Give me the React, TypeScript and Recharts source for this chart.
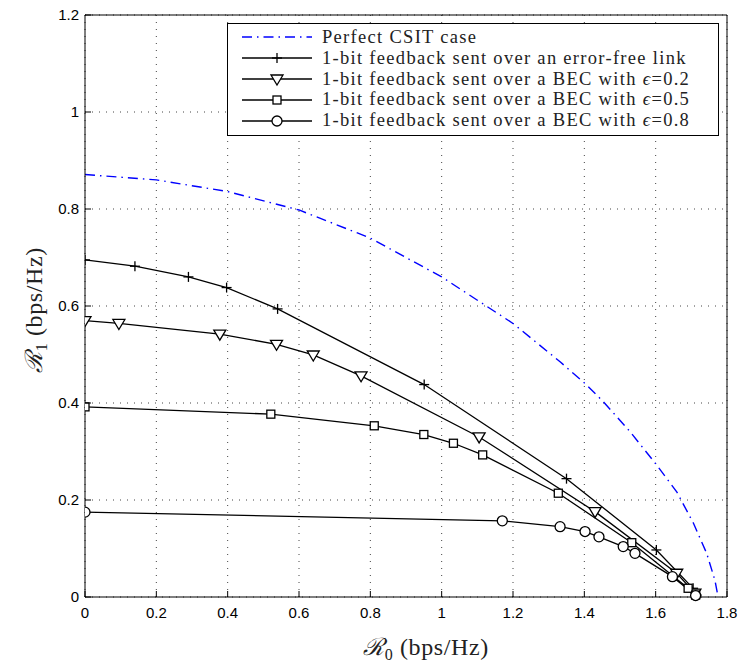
import React from 'react';
import { LineChart, Line, XAxis, YAxis, CartesianGrid } from 'recharts';

const xTicks = [0, 0.2, 0.4, 0.6, 0.8, 1, 1.2, 1.4, 1.6, 1.8];
const yTicks = [0, 0.2, 0.4, 0.6, 0.8, 1, 1.2];

const perfectCsit = [
    { x: 0, y: 0.871 }, { x: 0.2, y: 0.86 }, { x: 0.4, y: 0.836 }, { x: 0.6, y: 0.798 },
    { x: 0.8, y: 0.74 }, { x: 1.0, y: 0.66 }, { x: 1.2, y: 0.564 }, { x: 1.332, y: 0.485 },
    { x: 1.402, y: 0.44 }, { x: 1.453, y: 0.403 }, { x: 1.528, y: 0.341 }, { x: 1.603, y: 0.272 },
    { x: 1.659, y: 0.217 }, { x: 1.706, y: 0.152 }, { x: 1.743, y: 0.09 }, { x: 1.766, y: 0.035 },
    { x: 1.775, y: 0 },
];
const errorFree = [
    { x: 0, y: 0.695 }, { x: 0.14, y: 0.682 }, { x: 0.29, y: 0.66 }, { x: 0.397, y: 0.638 },
    { x: 0.54, y: 0.594 }, { x: 0.951, y: 0.438 }, { x: 1.35, y: 0.244 }, { x: 1.602, y: 0.097 },
    { x: 1.705, y: 0.018 }, { x: 1.715, y: 0.004 },
];
const bec02 = [
    { x: 0, y: 0.57 }, { x: 0.095, y: 0.564 }, { x: 0.378, y: 0.542 }, { x: 0.537, y: 0.521 },
    { x: 0.64, y: 0.499 }, { x: 0.774, y: 0.456 }, { x: 1.105, y: 0.33 }, { x: 1.43, y: 0.176 },
    { x: 1.659, y: 0.049 }, { x: 1.71, y: 0.008 },
];
const bec05 = [
    { x: 0, y: 0.392 }, { x: 0.521, y: 0.377 }, { x: 0.811, y: 0.353 }, { x: 0.95, y: 0.335 },
    { x: 1.033, y: 0.317 }, { x: 1.115, y: 0.293 }, { x: 1.327, y: 0.214 }, { x: 1.533, y: 0.112 },
    { x: 1.691, y: 0.018 }, { x: 1.712, y: 0.004 },
];
const bec08 = [
    { x: 0, y: 0.175 }, { x: 1.17, y: 0.157 }, { x: 1.332, y: 0.145 }, { x: 1.402, y: 0.135 },
    { x: 1.441, y: 0.124 }, { x: 1.509, y: 0.104 }, { x: 1.542, y: 0.09 }, { x: 1.647, y: 0.042 },
    { x: 1.712, y: 0.003 },
];

const legendItems = [
    { label: 'Perfect CSIT case', marker: 'none', dashed: true },
    { label: '1-bit feedback sent over an error-free link', marker: 'plus' },
    { label: '1-bit feedback sent over a BEC with ', eps: '0.2', marker: 'tri' },
    { label: '1-bit feedback sent over a BEC with ', eps: '0.5', marker: 'square' },
    { label: '1-bit feedback sent over a BEC with ', eps: '0.8', marker: 'circle' },
];

const tickFont = { fontFamily: 'Liberation Sans, Arial, sans-serif', fontSize: 15, fill: '#000' };

const Marker = ({ cx, cy, kind }: any) => {
    if (cx == null || cy == null) return null;
    if (kind === 'plus') {
        return (
            <g stroke="#000" strokeWidth={1.3}>
                <line x1={cx - 5} y1={cy} x2={cx + 5} y2={cy} />
                <line x1={cx} y1={cy - 5} x2={cx} y2={cy + 5} />
            </g>
        );
    }
    if (kind === 'tri') {
        return (
            <polygon
                points={`${cx - 6},${cy - 4} ${cx + 6},${cy - 4} ${cx},${cy + 6}`}
                fill="#fff" stroke="#000" strokeWidth={1.3}
            />
        );
    }
    if (kind === 'square') {
        return <rect x={cx - 4} y={cy - 4} width={8} height={8} fill="#fff" stroke="#000" strokeWidth={1.3} />;
    }
    if (kind === 'circle') {
        return <circle cx={cx} cy={cy} r={5} fill="#fff" stroke="#000" strokeWidth={1.3} />;
    }
    return null;
};

// ticks drawn inward, MATLAB style
const BottomTick = ({ x, y, payload }: any) => (
    <g>
        <line x1={x} y1={y} x2={x} y2={y - 6} stroke="#000" />
        <text x={x} y={y + 21} textAnchor="middle" {...tickFont}>{payload.value}</text>
    </g>
);
const TopTick = ({ x, y }: any) => <line x1={x} y1={y} x2={x} y2={y + 6} stroke="#000" />;
const LeftTick = ({ x, y, payload }: any) => (
    <g>
        <line x1={x} y1={y} x2={x + 6} y2={y} stroke="#000" />
        <text x={x - 6} y={y + 5} textAnchor="end" {...tickFont}>{payload.value}</text>
    </g>
);
const RightTick = ({ x, y }: any) => <line x1={x} y1={y} x2={x - 6} y2={y} stroke="#000" />;

const XLabel = ({ viewBox }: any) => (
    <text x={viewBox.x + viewBox.width / 2 + 20} y={viewBox.y + 58} textAnchor="middle"
        fontFamily="Liberation Serif, serif" fontSize={24} fill="#222" letterSpacing={0.6}>
        <tspan fontFamily="DejaVu Serif, serif" fontStyle="italic">ℛ</tspan>
        <tspan fontSize={16} dy={5}>0</tspan>
        <tspan dy={-5}> (bps/Hz)</tspan>
    </text>
);
const YLabel = ({ viewBox }: any) => {
    const cx = 42;
    const cy = viewBox.y + viewBox.height / 2 + 4;
    return (
        <text x={cx} y={cy} transform={`rotate(-90 ${cx} ${cy})`} textAnchor="middle"
            fontFamily="Liberation Serif, serif" fontSize={24} fill="#222" letterSpacing={0.6}>
            <tspan fontFamily="DejaVu Serif, serif" fontStyle="italic">ℛ</tspan>
            <tspan fontSize={16} dy={5}>1</tspan>
            <tspan dy={-5}> (bps/Hz)</tspan>
        </text>
    );
};

const ChartLegend = () => (
    <div style={{
        position: 'absolute', left: 227, top: 23,
        border: '1.5px solid #000', background: '#fff', width: 490, padding: '3px 0 4px 0',
        fontFamily: 'Liberation Serif, serif', fontSize: 18.5, color: '#222', lineHeight: '20.8px',
        letterSpacing: 1.3,
    }}>
        {legendItems.map((it) => (
            <div key={it.label + (it.eps || '')} style={{ display: 'flex', alignItems: 'center', height: 20.8 }}>
                <svg width={94} height={20} style={{ flex: 'none' }}>
                    <line x1={14} y1={10} x2={84} y2={10}
                        stroke={it.dashed ? '#0000ff' : '#000'} strokeWidth={it.dashed ? 1.4 : 1.3}
                        strokeDasharray={it.dashed ? '10 5 1.5 5' : undefined} />
                    <Marker cx={49} cy={10} kind={it.marker} />
                </svg>
                <span style={{ whiteSpace: 'nowrap' }}>
                    {it.label}
                    {it.eps && <><i>ϵ</i>=</>}
                    {it.eps}
                </span>
            </div>
        ))}
    </div>
);

export default function App() {
    return (
        <div style={{ position: 'absolute', left: 0, top: 0, width: 739, height: 663, background: '#fff' }}>
            <LineChart width={739} height={663} margin={{ top: 14, right: 11, bottom: 0, left: 0 }}>
                <CartesianGrid xAxisId="b" yAxisId="l" stroke="#444" strokeDasharray="1 6" />
                <XAxis xAxisId="b" type="number" dataKey="x" domain={[0, 1.8]} ticks={xTicks}
                    height={66} tickSize={0} tickMargin={0} tick={<BottomTick />} stroke="#000"
                    allowDataOverflow label={<XLabel />} />
                <XAxis xAxisId="t" orientation="top" type="number" dataKey="x" domain={[0, 1.8]} ticks={xTicks}
                    height={1} tickSize={0} tickMargin={0} tick={<TopTick />} stroke="#000" />
                <YAxis yAxisId="l" type="number" domain={[0, 1.2]} ticks={yTicks} width={85}
                    tickSize={0} tickMargin={0} tick={<LeftTick />} stroke="#000" label={<YLabel />} />
                <YAxis yAxisId="r" orientation="right" type="number" domain={[0, 1.2]} ticks={yTicks} width={1}
                    tickSize={0} tickMargin={0} tick={<RightTick />} stroke="#000" />
                <Line xAxisId="b" yAxisId="l" data={perfectCsit} dataKey="y" type="linear" stroke="#0000ff"
                    strokeWidth={1.4} strokeDasharray="10 5 1.5 5" dot={false} isAnimationActive={false} />
                <Line xAxisId="b" yAxisId="l" data={errorFree} dataKey="y" type="linear" stroke="#000"
                    strokeWidth={1.3} dot={(p: any) => <Marker key={p.index} cx={p.cx} cy={p.cy} kind="plus" />}
                    isAnimationActive={false} />
                <Line xAxisId="b" yAxisId="l" data={bec02} dataKey="y" type="linear" stroke="#000"
                    strokeWidth={1.3} dot={(p: any) => <Marker key={p.index} cx={p.cx} cy={p.cy} kind="tri" />}
                    isAnimationActive={false} />
                <Line xAxisId="b" yAxisId="l" data={bec05} dataKey="y" type="linear" stroke="#000"
                    strokeWidth={1.3} dot={(p: any) => <Marker key={p.index} cx={p.cx} cy={p.cy} kind="square" />}
                    isAnimationActive={false} />
                <Line xAxisId="b" yAxisId="l" data={bec08} dataKey="y" type="linear" stroke="#000"
                    strokeWidth={1.3} dot={(p: any) => <Marker key={p.index} cx={p.cx} cy={p.cy} kind="circle" />}
                    isAnimationActive={false} />
            </LineChart>
            <ChartLegend />
        </div>
    );
}
